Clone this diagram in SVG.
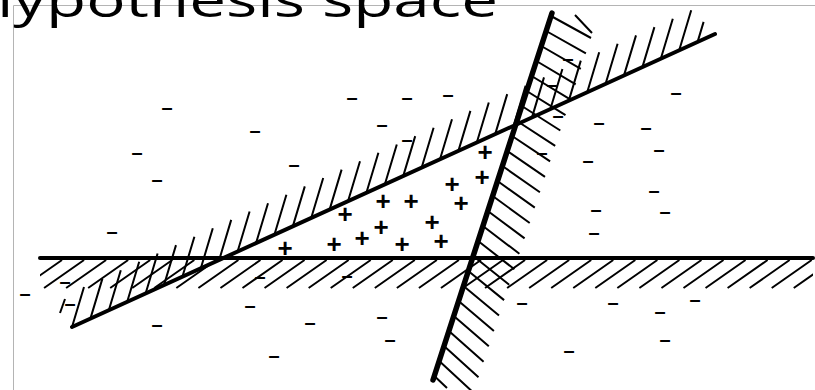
<svg xmlns="http://www.w3.org/2000/svg" width="815" height="390" viewBox="0 0 815 390">
<style>
.frame{stroke:#b4b4b4;stroke-width:1;fill:none}
.main{stroke:#000;fill:none;stroke-linecap:round}
.hatch{stroke:#000;stroke-width:2;fill:none;stroke-linecap:butt}
.title{font-family:"Open Sans","Liberation Sans",sans-serif;font-size:48px;fill:#000}
.plus{font-family:"Liberation Sans",Arial,sans-serif;font-weight:bold;font-size:26px;fill:#000;text-anchor:middle}
.minus{font-family:"Liberation Sans",Arial,sans-serif;font-weight:bold;font-size:20px;fill:#000;text-anchor:middle}
</style>
<defs>
<clipPath id="hclip"><rect x="40" y="259" width="773" height="30"/></clipPath>
</defs>
<rect width="815" height="390" fill="#fff"/>
<g id="frame">
<line class="frame" x1="13.5" y1="5.5" x2="815" y2="5.5"/>
<line class="frame" x1="13.5" y1="5.5" x2="13.5" y2="390"/>
</g>
<g id="title">
<text class="title" x="-27" y="17" textLength="525" lengthAdjust="spacingAndGlyphs">hypothesis space</text>
</g>
<g id="connectors">
<g id="horizontal-boundary">
<path class="hatch" clip-path="url(#hclip)" d="M62 260l-40 28M84.05 260l-40 28M106.1 260l-40 28M128.15 260l-40 28M150.2 260l-40 28M172.25 260l-40 28M194.3 260l-40 28M216.35 260l-40 28M238.4 260l-40 28M260.45 260l-40 28M282.5 260l-40 28M304.55 260l-40 28M326.6 260l-40 28M348.65 260l-40 28M370.7 260l-40 28M392.75 260l-40 28M414.8 260l-40 28M436.85 260l-40 28M458.9 260l-40 28M480.95 260l-40 28M503 260l-40 28M525.05 260l-40 28M547.1 260l-40 28M569.15 260l-40 28M591.2 260l-40 28M613.25 260l-40 28M635.3 260l-40 28M657.35 260l-40 28M679.4 260l-40 28M701.45 260l-40 28M723.5 260l-40 28M745.55 260l-40 28M767.6 260l-40 28M789.65 260l-40 28M811.7 260l-40 28M833.75 260l-40 28"/>
<line class="main" stroke-width="4" x1="40" y1="258" x2="813" y2="258"/>
</g>
<g id="rising-boundary">
<path class="hatch" d="M72 327l12 -40M90.4 318.6l12 -40M108.8 310.2l12 -40M127.2 301.8l12 -40M145.6 293.5l12 -40M164 285.1l12 -40M182.4 276.7l12 -40M200.8 268.3l12 -40M219.2 259.9l12 -40M237.6 251.5l12 -40M256 243.2l12 -40M274.4 234.8l12 -40M292.8 226.4l12 -40M311.2 218l12 -40M329.6 209.6l12 -40M348 201.2l12 -40M366.4 192.8l12 -40M384.8 184.5l12 -40M403.2 176.1l12 -40M421.6 167.7l12 -40M440 159.3l12 -40M458.4 150.9l12 -40M476.8 142.5l12 -40M495.2 134.1l12 -40M513.6 125.8l12 -40M532 117.4l12 -40M550.4 109l12 -40M568.8 100.6l12 -40M587.2 92.2l12 -40M605.6 83.8l12 -40M624 75.4l12 -40M642.4 67.1l12 -40M660.8 58.7l12 -40M679.2 50.3l12 -40M697.6 41.9l6 -20"/>
<line class="main" stroke-width="4" x1="72" y1="327" x2="715" y2="34"/>
</g>
<g id="steep-boundary">
<path class="hatch" d="M551 16L591 38M546.2 31L585.9 53.4M541.3 46L580.8 68.8M536.4 61L575.7 84.3M531.6 76L570.6 99.7M526.7 91L565.5 115.1M521.8 106L560.3 130.5M517 121L555.2 145.9M512.1 136L550.1 161.3M507.3 151L545 176.8M502.4 166L539.9 192.2M497.5 181L534.8 207.6M492.7 196L529.7 223M487.8 211L524.6 238.4M482.9 226L519.4 253.8M478.1 241L514.4 269.3M473.2 256L509.2 284.7M468.3 271L504.1 300.1M463.5 286L499 315.5M458.6 301L493.9 330.9M453.8 316L488.8 346.3M448.9 331L483.6 361.8M444 346L478.5 377.2M439.2 361L473.4 392.6M434.3 376L447 388M575 15L592 33"/>
<line class="main" stroke-width="5.5" x1="433" y1="380" x2="552" y2="13"/>
</g>
<path class="hatch" d="M60 313L65 299"/>
</g>
<g id="negatives">
<text class="minus" x="167" y="114.2">–</text>
<text class="minus" x="255" y="137.2">–</text>
<text class="minus" x="137" y="159.2">–</text>
<text class="minus" x="157" y="186.2">–</text>
<text class="minus" x="294" y="171.2">–</text>
<text class="minus" x="112" y="238.2">–</text>
<text class="minus" x="352" y="104.2">–</text>
<text class="minus" x="407" y="104.2">–</text>
<text class="minus" x="448" y="101.2">–</text>
<text class="minus" x="382" y="131.2">–</text>
<text class="minus" x="407" y="146.2">–</text>
<text class="minus" x="568" y="65.2">–</text>
<text class="minus" x="552" y="91.2">–</text>
<text class="minus" x="558" y="122.2">–</text>
<text class="minus" x="676" y="99.2">–</text>
<text class="minus" x="599" y="129.2">–</text>
<text class="minus" x="646" y="134.2">–</text>
<text class="minus" x="659" y="156.2">–</text>
<text class="minus" x="588" y="167.2">–</text>
<text class="minus" x="542" y="159.2">–</text>
<text class="minus" x="654" y="197.2">–</text>
<text class="minus" x="596" y="216.2">–</text>
<text class="minus" x="665" y="218.2">–</text>
<text class="minus" x="594" y="239.2">–</text>
<text class="minus" x="522" y="309.2">–</text>
<text class="minus" x="613" y="309.2">–</text>
<text class="minus" x="660" y="318.2">–</text>
<text class="minus" x="695" y="306.2">–</text>
<text class="minus" x="665" y="346.2">–</text>
<text class="minus" x="569" y="357.2">–</text>
<text class="minus" x="260" y="283.2">–</text>
<text class="minus" x="347" y="282.2">–</text>
<text class="minus" x="25" y="300.2">–</text>
<text class="minus" x="70" y="310.2">–</text>
<text class="minus" x="65" y="288.2">–</text>
<text class="minus" x="157" y="331.2">–</text>
<text class="minus" x="250" y="312.2">–</text>
<text class="minus" x="310" y="329.2">–</text>
<text class="minus" x="382" y="323.2">–</text>
<text class="minus" x="390" y="346.2">–</text>
<text class="minus" x="274" y="362.2">–</text>
</g>
<g id="positives">
<text class="plus" x="485" y="161.1">+</text>
<text class="plus" x="482" y="186.1">+</text>
<text class="plus" x="452" y="193.1">+</text>
<text class="plus" x="383" y="210.1">+</text>
<text class="plus" x="411" y="210.1">+</text>
<text class="plus" x="461" y="212.1">+</text>
<text class="plus" x="345" y="223.1">+</text>
<text class="plus" x="432" y="231.1">+</text>
<text class="plus" x="381" y="236.1">+</text>
<text class="plus" x="362" y="247.1">+</text>
<text class="plus" x="334" y="253.1">+</text>
<text class="plus" x="402" y="253.1">+</text>
<text class="plus" x="441" y="250.1">+</text>
<text class="plus" x="285" y="257.1">+</text>
</g>
</svg>
